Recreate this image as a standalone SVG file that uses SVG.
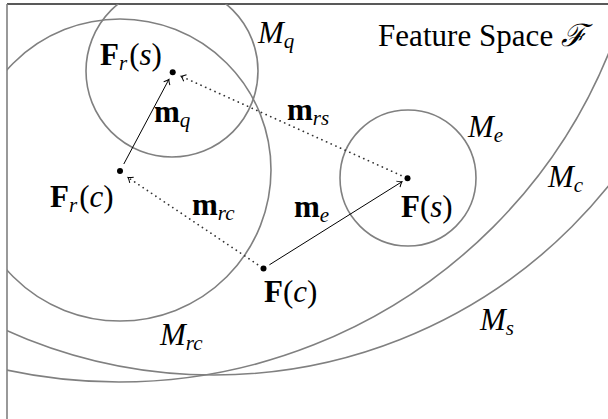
<svg xmlns="http://www.w3.org/2000/svg" width="608" height="419" viewBox="0 0 608 419">
<defs>
<style>
.region{fill:none;stroke:#808080;stroke-width:1.6}
.lbl{font-family:"Liberation Serif","DejaVu Serif",serif;font-size:31px;fill:#000}
.it{font-style:italic}
.bf{font-weight:bold}
.sub{font-size:21px;font-style:italic}
.pt{fill:#000}
.solid{stroke:#000;stroke-width:1;fill:none}
.dot{stroke:#333;stroke-width:1.7;fill:none;stroke-dasharray:0.1 5;stroke-linecap:round}
</style>
<clipPath id="frameclip"><rect x="7" y="4" width="601" height="415"/></clipPath>
<marker id="arr" markerUnits="userSpaceOnUse" markerWidth="12" markerHeight="12" viewBox="-6 -6 12 12" refX="0" refY="0" orient="auto">
<path d="M -4.5 -3.5 Q -1.5 -0.6 0 0 Q -1.5 0.6 -4.5 3.5" fill="none" stroke="#000" stroke-width="1"/>
</marker>
</defs>
<rect width="608" height="419" fill="#fff"/>
<line x1="7" y1="4" x2="608" y2="4" stroke="#222" stroke-width="1.4"/>
<line x1="7" y1="4" x2="7" y2="419" stroke="#808080" stroke-width="1.6"/>

<g id="regions" clip-path="url(#frameclip)">
<circle id="Mq" class="region" cx="172" cy="71" r="86"/>
<circle id="Mrc" class="region" cx="120" cy="170" r="151"/>
<circle id="Me" class="region" cx="408" cy="178" r="68"/>
<circle id="Mc" class="region" cx="119" cy="-147" r="529"/>
<circle id="Ms" class="region" cx="214" cy="-131" r="506"/>
</g>

<g id="connectors">
<line id="m_q" class="solid" x1="123.8" y1="164" x2="168.9" y2="79.4" marker-end="url(#arr)"/>
<line id="m_e" class="solid" x1="269.4" y1="264.8" x2="402" y2="181.7" marker-end="url(#arr)"/>
<line id="m_rs" class="dot" x1="401" y1="175.4" x2="181" y2="76.2"/>
<line class="solid" x1="186" y1="78.4" x2="181" y2="76.2" stroke-opacity="0" marker-end="url(#arr)"/>
<line id="m_rc" class="dot" x1="257.5" y1="264.5" x2="128" y2="177.5"/>
<line class="solid" x1="133" y1="180.9" x2="128" y2="177.5" stroke-opacity="0" marker-end="url(#arr)"/>
</g>

<g id="Fr_s"><circle class="pt" cx="172.7" cy="72.3" r="3"/></g>
<g id="Fr_c"><circle class="pt" cx="120" cy="171" r="3"/></g>
<g id="F_s"><circle class="pt" cx="407.5" cy="178.3" r="3"/></g>
<g id="F_c"><circle class="pt" cx="263.5" cy="268.5" r="3"/></g>

<g id="labels">
<text class="lbl" x="378" y="46" textLength="209" lengthAdjust="spacing">Feature Space <tspan class="it">ℱ</tspan></text>
<text class="lbl" x="258" y="43"><tspan class="it">M</tspan><tspan class="sub" dy="5">q</tspan></text>
<text class="lbl" x="468" y="137"><tspan class="it">M</tspan><tspan class="sub" dy="5">e</tspan></text>
<text class="lbl" x="548" y="187"><tspan class="it">M</tspan><tspan class="sub" dy="5">c</tspan></text>
<text class="lbl" x="480" y="330"><tspan class="it">M</tspan><tspan class="sub" dy="5">s</tspan></text>
<text class="lbl" x="160" y="345"><tspan class="it">M</tspan><tspan class="sub" dy="5">rc</tspan></text>
<text class="lbl" x="100" y="65"><tspan class="bf">F</tspan><tspan class="sub" dy="5">r</tspan><tspan dx="2" dy="-5">(</tspan><tspan class="it">s</tspan>)</text>
<text class="lbl" x="50" y="207"><tspan class="bf">F</tspan><tspan class="sub" dy="5">r</tspan><tspan dx="2" dy="-5">(</tspan><tspan class="it">c</tspan>)</text>
<text class="lbl" x="401" y="217"><tspan class="bf">F</tspan>(<tspan class="it">s</tspan>)</text>
<text class="lbl" x="264" y="302"><tspan class="bf">F</tspan>(<tspan class="it">c</tspan>)</text>
<text class="lbl" x="154" y="122"><tspan class="bf">m</tspan><tspan class="sub" dy="5">q</tspan></text>
<text class="lbl" x="287" y="120"><tspan class="bf">m</tspan><tspan class="sub" dy="5">rs</tspan></text>
<text class="lbl" x="294" y="217"><tspan class="bf">m</tspan><tspan class="sub" dy="5">e</tspan></text>
<text class="lbl" x="192" y="215"><tspan class="bf">m</tspan><tspan class="sub" dy="5">rc</tspan></text>
</g>
</svg>
